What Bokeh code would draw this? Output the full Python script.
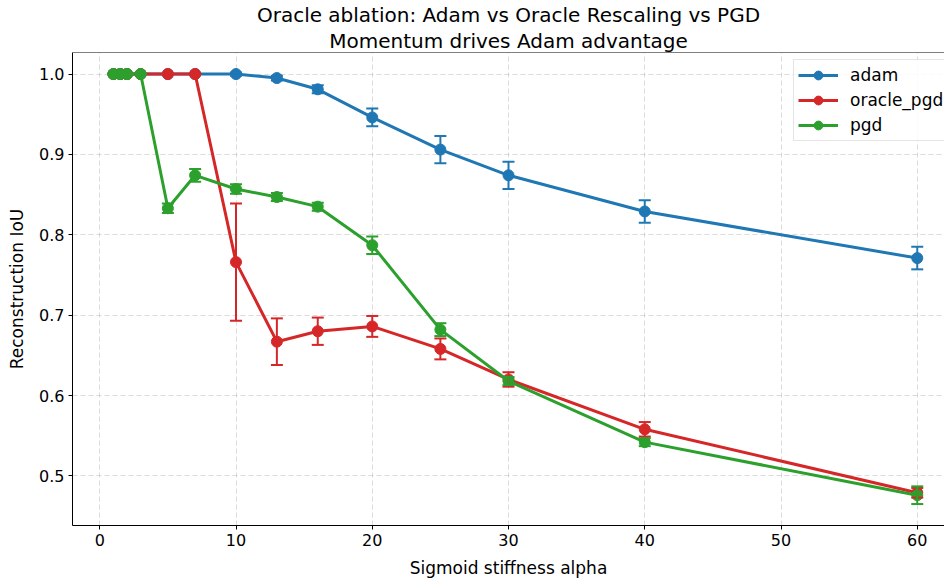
from bokeh.plotting import figure
from bokeh.models import (ColumnDataSource, Whisker, TeeHead, FixedTicker, Legend, Span,
                          LegendItem, Range1d, Title, NumeralTickFormatter)
from bokeh.embed import file_html
from bokeh.resources import INLINE

# Sigmoid stiffness values shared by all three optimizers
alpha = [1, 1.5, 2, 3, 5, 7, 10, 13, 16, 20, 25, 30, 40, 60]

adam_iou = [1.0, 1.0, 1.0, 1.0, 1.0, 1.0, 1.0, 0.995, 0.981, 0.946, 0.906, 0.874, 0.829, 0.771]
adam_err = [0.0, 0.0, 0.0, 0.0, 0.0, 0.0, 0.002, 0.003, 0.005, 0.011, 0.017, 0.017, 0.014, 0.014]

oracle_iou = [1.0, 1.0, 1.0, 1.0, 1.0, 1.0, 0.766, 0.667, 0.680, 0.686, 0.658, 0.620, 0.558, 0.479]
oracle_err = [0.0, 0.0, 0.0, 0.0, 0.0, 0.0, 0.073, 0.029, 0.017, 0.013, 0.013, 0.009, 0.009, 0.006]

pgd_iou = [1.0, 1.0, 1.0, 1.0, 0.833, 0.874, 0.857, 0.847, 0.835, 0.787, 0.682, 0.618, 0.542, 0.476]
pgd_err = [0.0, 0.0, 0.0, 0.0, 0.006, 0.008, 0.006, 0.005, 0.005, 0.011, 0.008, 0.005, 0.005, 0.011]

x_ticks = [0, 10, 20, 30, 40, 50, 60]
y_ticks = [0.5, 0.6, 0.7, 0.8, 0.9, 1.0]

title_lines = ["Oracle ablation: Adam vs Oracle Rescaling vs PGD", "Momentum drives Adam advantage"]

series = [
    ("adam", adam_iou, adam_err, "#1f77b4"),
    ("oracle_pgd", oracle_iou, oracle_err, "#d62728"),
    ("pgd", pgd_iou, pgd_err, "#2ca02c"),
]

FONT = "DejaVu Sans"
Y_TOP = 1.0268

p = figure(
    width=944, height=582,
    output_backend="svg", toolbar_location=None,
    x_range=Range1d(-2.0, 62.0), y_range=Range1d(0.4383, Y_TOP),
    min_border_left=72, min_border_right=0, min_border_top=52, min_border_bottom=57,
)

p.outline_line_color = None

for ax in (p.xaxis[0], p.yaxis[0]):
    ax.axis_line_color = "black"
    ax.axis_line_width = 1
    ax.major_tick_line_color = "black"
    ax.major_tick_out = 4
    ax.major_tick_in = 0
    ax.minor_tick_line_color = None
    ax.major_label_standoff = 4
    ax.major_label_text_font = FONT
    ax.major_label_text_font_size = "16px"
    ax.major_label_text_color = "black"
    ax.axis_label_text_font = FONT
    ax.axis_label_text_font_size = "17px"
    ax.axis_label_text_font_style = "normal"
    ax.axis_label_text_color = "black"

p.xaxis.ticker = FixedTicker(ticks=x_ticks)
p.yaxis.ticker = FixedTicker(ticks=y_ticks)
p.yaxis.formatter = NumeralTickFormatter(format="0.0")
p.xaxis.axis_label = "Sigmoid stiffness alpha"
p.yaxis.axis_label = "Reconstruction IoU"
p.xaxis.axis_label_standoff = 9
p.yaxis.axis_label_standoff = 9

# top spine along the upper edge of the frame
p.add_layout(Span(location=Y_TOP, dimension="width", line_color="black", line_width=1))

# two centred title lines; the later one is placed further out
for line in reversed(title_lines):
    p.add_layout(Title(text=line, align="center", text_font=FONT, text_font_size="20px",
                       text_font_style="normal", text_color="black",
                       standoff=0, offset=0), "above")

p.grid.grid_line_color = "#b0b0b0"
p.grid.grid_line_alpha = 0.45
p.grid.grid_line_dash = "5 3"
p.xgrid.ticker = FixedTicker(ticks=x_ticks)
p.ygrid.ticker = FixedTicker(ticks=y_ticks)

items = []
for name, vals, errs, color in series:
    src = ColumnDataSource(dict(
        x=alpha, y=vals,
        lo=[v - e for v, e in zip(vals, errs)],
        hi=[v + e for v, e in zip(vals, errs)],
    ))
    w = Whisker(base="x", lower="lo", upper="hi", source=src,
                line_color=color, line_width=2, level="glyph",
                upper_head=TeeHead(size=12, line_color=color, line_width=2),
                lower_head=TeeHead(size=12, line_color=color, line_width=2))
    p.add_layout(w)
    ln = p.line("x", "y", source=src, line_color=color, line_width=3)
    sc = p.scatter("x", "y", source=src, size=11, fill_color=color, line_color=color)
    items.append(LegendItem(label=name, renderers=[ln, sc]))

legend = Legend(items=items, location=(721, 384))
legend.label_text_font = FONT
legend.label_text_font_size = "17px"
legend.label_text_color = "black"
legend.glyph_width = 40
legend.glyph_height = 22
legend.label_height = 22
legend.label_standoff = 12
legend.spacing = 3
legend.padding = 4
legend.margin = 0
legend.border_line_color = "#cccccc"
legend.border_line_width = 1
legend.background_fill_alpha = 0.85
p.add_layout(legend)

open("out.html", "w").write(file_html(p, INLINE))
